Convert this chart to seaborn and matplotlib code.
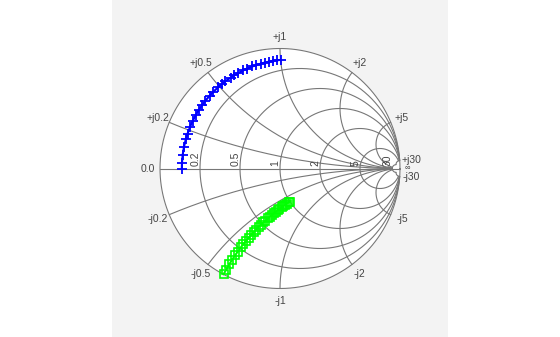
import numpy as np
import pandas as pd
import matplotlib
matplotlib.use("Agg")
import matplotlib.pyplot as plt
import seaborn as sns

# ---- data (impedance values, normalised) ----
blue_real = [0.1] * 30
blue_imag = [0.0, 0.03, 0.07, 0.11, 0.15, 0.18, 0.22, 0.25, 0.29, 0.32,
             0.35, 0.38, 0.42, 0.45, 0.49, 0.52, 0.55, 0.59, 0.62, 0.65,
             0.69, 0.72, 0.76, 0.79, 0.83, 0.86, 0.90, 0.93, 0.97, 1.0]
green_real = [0.0, 0.03, 0.07, 0.10, 0.14, 0.17, 0.21, 0.24, 0.28, 0.31,
              0.34, 0.38, 0.41, 0.45, 0.48, 0.52, 0.55, 0.59, 0.62, 0.66,
              0.69, 0.72, 0.76, 0.79, 0.83, 0.86, 0.90, 0.93, 0.97, 1.0]
green_imag = [-0.6] * 30

real_ticks = [0.2, 0.5, 1, 2, 5, 30]
real_labels = ["0.2", "0.5", "1", "2", "5", "30"]
imag_ticks = [0.2, 0.5, 1, 2, 5, 30]
imag_labels = ["0.2", "0.5", "1", "2", "5", "30"]


def gamma(r, x):
    z = np.asarray(r, dtype=float) + 1j * np.asarray(x, dtype=float)
    return (z - 1) / (z + 1)


sns.set_theme(style="white")
plt.rcParams['font.family'] = ['Liberation Sans', 'DejaVu Sans']

W, H = 560, 337
fig = plt.figure(figsize=(W / 100, H / 100), dpi=100)
fig.patch.set_facecolor("white")
R_PX = 120.0
ax = fig.add_axes([112 / W, 0, 336 / W, 1])
ax.set_facecolor("#f3f3f3")
for s in ax.spines.values():
    s.set_visible(False)
ax.set_xticks([])
ax.set_yticks([])

GRID = "#777777"
LW = 0.8
x_max = max(imag_ticks)
r_max = max(real_ticks)

t = np.linspace(0, 2 * np.pi, 500)
ax.fill(np.cos(t), np.sin(t), color="white", zorder=0)
ax.plot(np.cos(t), np.sin(t), color=GRID, lw=LW, zorder=1)
ax.plot([-1, 1], [0, 0], color=GRID, lw=LW, zorder=1)

# constant-resistance circles, between -x_max and +x_max
for R in real_ticks:
    c = R / (1 + R)
    rho = 1 / (1 + R)
    a = np.mod(np.angle(gamma(R, x_max) - c), 2 * np.pi)
    phis = np.linspace(a, 2 * np.pi - a, 500)
    ax.plot(c + rho * np.cos(phis), rho * np.sin(phis), color=GRID, lw=LW, zorder=1)

# constant-reactance arcs, from the rim to r_max
for X in imag_ticks:
    rho = 1.0 / X
    c = 1.0 + 1j / X
    a0 = np.mod(np.angle(gamma(0, X) - c), 2 * np.pi)
    a1 = np.mod(np.angle(gamma(r_max, X) - c), 2 * np.pi)
    if a1 < a0:
        a1 += 2 * np.pi
    phis = np.linspace(a0, a1, 500)
    xs = 1.0 + rho * np.cos(phis)
    ys = 1.0 / X + rho * np.sin(phis)
    ax.plot(xs, ys, color=GRID, lw=LW, zorder=1)
    ax.plot(xs, -ys, color=GRID, lw=LW, zorder=1)

TXT = "#444444"
FS = 7.5
px = 1 / R_PX
for R, lab in zip(real_ticks, real_labels):
    g = gamma(R, 0).real
    ax.text(g - 1.5 * px, 2 * px, lab, rotation=90, rotation_mode="anchor",
            ha="left", va="baseline", fontsize=FS, color=TXT)

for X, lab in zip(imag_ticks, imag_labels):
    for sgn, pre in ((1, "+j"), (-1, "-j")):
        g = gamma(0, sgn * X)
        th = np.angle(g)
        ax.text(1.1 * np.cos(th), 1.1 * np.sin(th), pre + lab, ha="center",
                va="center", fontsize=FS, color=TXT)
ax.text(-1.1, 0, "0.0", ha="center", va="center", fontsize=FS, color=TXT)
ax.text(1.06, 0.0, "\u221e", ha="center", va="center", fontsize=FS - 2, color=TXT)

gb = gamma(blue_real, blue_imag)
gg = gamma(green_real, green_imag)
df_b = pd.DataFrame({"u": gb.real, "v": gb.imag})
df_g = pd.DataFrame({"u": gg.real, "v": gg.imag})
sns.lineplot(data=df_b, x="u", y="v", sort=False, estimator=None, ax=ax,
             color="#0000ff", lw=1.5, marker="+", markersize=7,
             markeredgewidth=1.3, markeredgecolor="#0000ff", zorder=3)
sns.lineplot(data=df_g, x="u", y="v", sort=False, estimator=None, ax=ax,
             color="#00ff00", lw=1.5, marker="s", markersize=6,
             markerfacecolor="none", markeredgewidth=1.2,
             markeredgecolor="#00ff00", zorder=3)
ax.set_xlabel("")
ax.set_ylabel("")
ax.set_xlim(-168 / R_PX, 168 / R_PX)
ax.set_ylim(-168.5 / R_PX, 168.5 / R_PX)

fig.savefig("out.png", dpi=100)
